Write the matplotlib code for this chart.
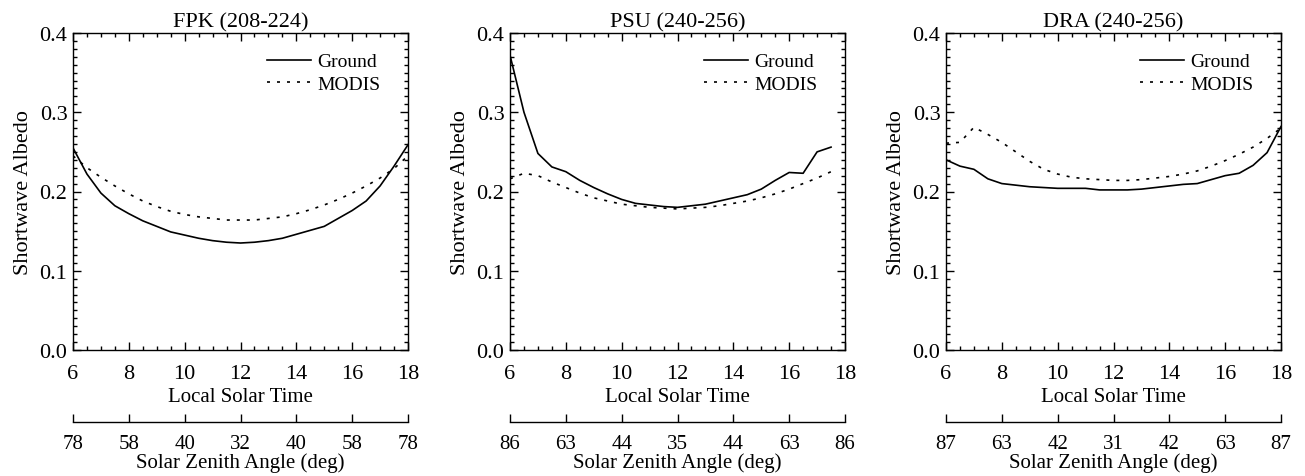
import matplotlib
matplotlib.use("Agg")
import matplotlib.pyplot as plt
from matplotlib.ticker import MultipleLocator
import numpy as np

plt.rcParams['font.family'] = ['Liberation Serif', 'DejaVu Serif']
plt.rcParams['font.size'] = 16

titles = ["FPK (208-224)", "PSU (240-256)", "DRA (240-256)"]

time_fpk = [6.0, 6.5, 7.0, 7.5, 8.0, 8.5, 9.0, 9.5, 10.0, 10.5, 11.0, 11.5, 12.0,
            12.5, 13.0, 13.5, 14.0, 14.5, 15.0, 15.5, 16.0, 16.5, 17.0, 17.5, 18.0]
ground_fpk = [0.255, 0.222, 0.198, 0.182, 0.172, 0.163, 0.156, 0.149, 0.145, 0.141, 0.138,
              0.136, 0.135, 0.136, 0.138, 0.141, 0.146, 0.151, 0.156, 0.166, 0.176, 0.188,
              0.207, 0.232, 0.259]
modis_fpk = [0.245, 0.230, 0.218, 0.207, 0.197, 0.188, 0.181, 0.175, 0.171, 0.168, 0.166,
             0.164, 0.164, 0.164, 0.166, 0.168, 0.172, 0.177, 0.183, 0.190, 0.198, 0.207,
             0.217, 0.229, 0.245]

time_psu = [6.0, 6.5, 7.0, 7.5, 8.0, 8.5, 9.0, 9.5, 10.0, 10.5, 11.0, 11.5, 12.0,
            12.5, 13.0, 13.5, 14.0, 14.5, 15.0, 15.5, 16.0, 16.5, 17.0, 17.5]
ground_psu = [0.372, 0.300, 0.248, 0.231, 0.225, 0.214, 0.205, 0.197, 0.190, 0.185, 0.183,
              0.181, 0.180, 0.182, 0.184, 0.188, 0.192, 0.196, 0.203, 0.214, 0.224, 0.223,
              0.250, 0.256]
modis_psu = [0.216, 0.223, 0.220, 0.212, 0.205, 0.198, 0.192, 0.188, 0.184, 0.182, 0.180,
             0.179, 0.178, 0.179, 0.180, 0.182, 0.185, 0.188, 0.192, 0.197, 0.203, 0.210,
             0.217, 0.225]

time_dra = [6.0, 6.5, 7.0, 7.5, 8.0, 8.5, 9.0, 9.5, 10.0, 10.5, 11.0, 11.5, 12.0,
            12.5, 13.0, 13.5, 14.0, 14.5, 15.0, 15.5, 16.0, 16.5, 17.0, 17.5, 18.0]
ground_dra = [0.240, 0.232, 0.228, 0.216, 0.210, 0.208, 0.206, 0.205, 0.204, 0.204, 0.204,
              0.202, 0.202, 0.202, 0.203, 0.205, 0.207, 0.209, 0.210, 0.215, 0.220, 0.223,
              0.233, 0.249, 0.282]
modis_dra = [0.261, 0.262, 0.281, 0.272, 0.262, 0.250, 0.238, 0.228, 0.222, 0.218, 0.216,
             0.215, 0.214, 0.214, 0.215, 0.217, 0.219, 0.222, 0.226, 0.232, 0.239, 0.247,
             0.256, 0.267, 0.280]

time_ticks = [6, 8, 10, 12, 14, 16, 18]
sza_fpk = ["78", "58", "40", "32", "40", "58", "78"]
sza_psu = ["86", "63", "44", "35", "44", "63", "86"]
sza_dra = ["87", "63", "42", "31", "42", "63", "87"]

panels = [
    (time_fpk, ground_fpk, modis_fpk, sza_fpk),
    (time_psu, ground_psu, modis_psu, sza_psu),
    (time_dra, ground_dra, modis_dra, sza_dra),
]

W, H = 1305, 477
fig = plt.figure(figsize=(W / 100, H / 100), dpi=100)
lefts = [73, 510, 946]
ax_w = 335
ax_top, ax_bot = 34, 351
ax_h = ax_bot - ax_top

dotted = (0, (1.8, 4.2))
for i, (t, g, m, sza) in enumerate(panels):
    ax = fig.add_axes([lefts[i] / W, (H - ax_bot) / H, ax_w / W, ax_h / H])
    ax.plot(t, g, color='black', lw=1.2, label='Ground')
    ax.plot(t, m, color='black', lw=1.2, linestyle=dotted, label='MODIS')
    ax.set_xlim(6, 18)
    ax.set_ylim(0, 0.4)
    ax.set_xticks(time_ticks)
    ax.set_yticks([0.0, 0.1, 0.2, 0.3, 0.4])
    ax.set_yticklabels(["0.0", "0.1", "0.2", "0.3", "0.4"])
    ax.xaxis.set_minor_locator(MultipleLocator(0.5))
    ax.yaxis.set_minor_locator(MultipleLocator(0.01))
    ax.tick_params(which='both', direction='in', top=True, right=True,
                   labeltop=False, labelright=False, width=1.0)
    ax.tick_params(which='major', length=6)
    ax.tick_params(which='minor', length=3)
    ax.tick_params(axis='x', which='major', pad=10)
    ax.tick_params(axis='y', which='major', pad=4)
    for s in ax.spines.values():
        s.set_linewidth(1.0)
    ax.set_title(titles[i], fontsize=16, pad=5)
    ax.set_xlabel("Local Solar Time", fontsize=15, labelpad=3)
    ax.set_ylabel("Shortwave Albedo", labelpad=5)
    ax.legend(loc='upper right', bbox_to_anchor=(0.942, 1 - 12 / ax_h),
              frameon=False, handlelength=2.27, handletextpad=0.36,
              labelspacing=0.25, borderaxespad=0.0, fontsize=14)

    sec = ax.secondary_xaxis(-72 / ax_h)
    sec.set_xticks(time_ticks)
    sec.set_xticklabels(sza, fontsize=15)
    sec.tick_params(which='major', direction='in', length=6, width=1.0, pad=9)
    sec.xaxis.set_minor_locator(plt.NullLocator())
    sec.spines['bottom'].set_linewidth(1.0)
    sec.set_xlabel("Solar Zenith Angle (deg)", fontsize=15, labelpad=-1)

fig.savefig("out.png", dpi=100)
